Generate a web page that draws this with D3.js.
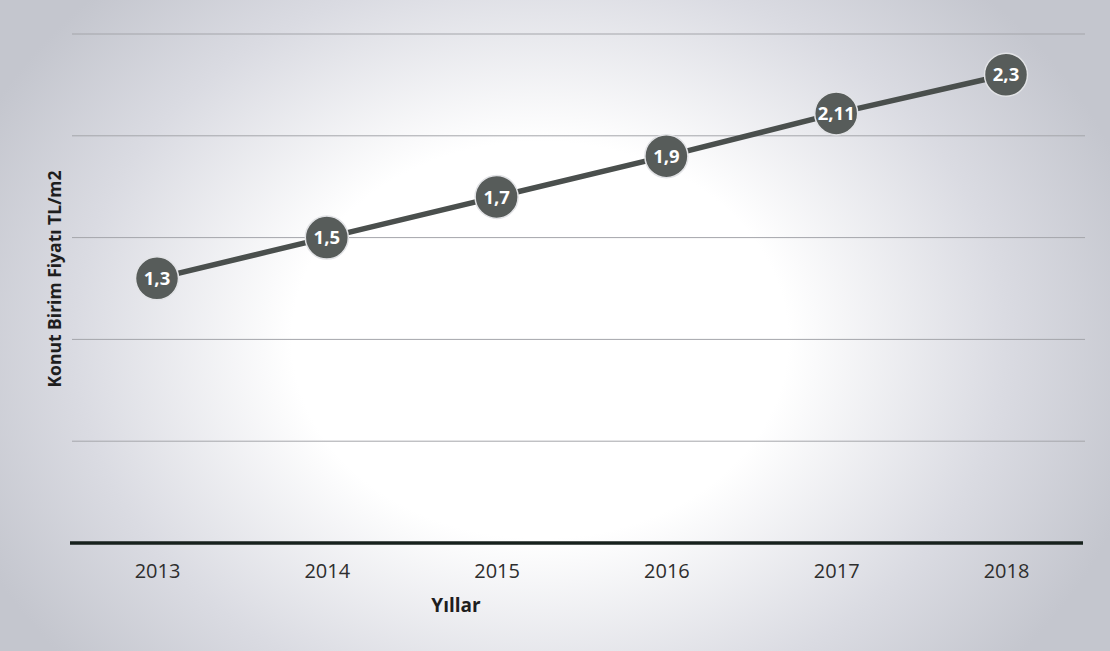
<!DOCTYPE html>
<html>
<head>
<meta charset="utf-8">
<script src="https://cdn.jsdelivr.net/npm/d3@7/dist/d3.min.js"></script>
<style>
  html, body { margin: 0; padding: 0; background: #fff; }
  svg { display: block; }
</style>
</head>
<body>
<svg id="chart" width="1110" height="651"></svg>
<script>
// Konut birim fiyatı (TL/m2), yıllara göre
const years = ["2013", "2014", "2015", "2016", "2017", "2018"];
const prices = [1.3, 1.5, 1.7, 1.9, 2.11, 2.3];
const priceLabels = ["1,3", "1,5", "1,7", "1,9", "2,11", "2,3"];
const gridValues = [0, 0.5, 1, 1.5, 2, 2.5];

const W = 1110, H = 651;
const svg = d3.select("#chart");
const defs = svg.append("defs");

// soft white centre fading to grey towards the edges
const bg = defs.append("radialGradient")
  .attr("id", "bgGrad")
  .attr("gradientUnits", "userSpaceOnUse")
  .attr("cx", 540).attr("cy", 340).attr("r", 620)
  .attr("gradientTransform", "translate(540,340) scale(1,0.8) translate(-540,-340)");
bg.append("stop").attr("offset", "0").attr("stop-color", "#ffffff");
bg.append("stop").attr("offset", "0.4").attr("stop-color", "#ffffff");
bg.append("stop").attr("offset", "0.75").attr("stop-color", "#dadbe2");
bg.append("stop").attr("offset", "1").attr("stop-color", "#c4c6ce");

svg.append("rect").attr("width", W).attr("height", H).attr("fill", "url(#bgGrad)");

const plot = { left: 72, right: 1085, top: 34, bottom: 543 };

const x = d3.scalePoint().domain(years).range([157, 1006]);
const y = d3.scaleLinear().domain([0, 2.5]).range([plot.bottom, plot.top]);

// horizontal gridlines
svg.append("g")
  .selectAll("line")
  .data(gridValues.filter(v => v > 0))
  .join("line")
  .attr("x1", plot.left).attr("x2", plot.right)
  .attr("y1", d => y(d)).attr("y2", d => y(d))
  .attr("stroke", "#a4a5aa")
  .attr("stroke-width", 1);

// x axis baseline and year labels
const xAxis = svg.append("g")
  .attr("transform", `translate(0,${y(0)})`)
  .call(d3.axisBottom(x).tickSize(0).tickPadding(21));
xAxis.select(".domain").remove();
xAxis.append("line")
  .attr("x1", 70).attr("x2", 1083)
  .attr("y1", 0).attr("y2", 0)
  .attr("stroke", "#17211d")
  .attr("stroke-width", 3.5);
xAxis.selectAll(".tick text")
  .attr("font-family", "'Open Sans', sans-serif")
  .attr("font-size", 20)
  .attr("fill", "#2e2e2e");

// axis titles
svg.append("text")
  .attr("x", 456).attr("y", 612)
  .attr("text-anchor", "middle")
  .attr("font-family", "'Open Sans', sans-serif")
  .attr("font-weight", 700)
  .attr("font-size", 19)
  .attr("fill", "#1e1e1e")
  .text("Yıllar");

svg.append("text")
  .attr("transform", "translate(61,279) rotate(-90)")
  .attr("text-anchor", "middle")
  .attr("font-family", "'Open Sans', sans-serif")
  .attr("font-weight", 700)
  .attr("font-size", 17.5)
  .attr("fill", "#1e1e1e")
  .text("Konut Birim Fiyatı TL/m2");

// price line
const data = years.map((yr, i) => ({ year: yr, value: prices[i], label: priceLabels[i] }));
svg.append("path")
  .datum(data)
  .attr("fill", "none")
  .attr("stroke", "#4a4f4d")
  .attr("stroke-width", 5.5)
  .attr("d", d3.line().x(d => x(d.year)).y(d => y(d.value)));

// value markers with labels
const pts = svg.append("g").selectAll("g")
  .data(data)
  .join("g")
  .attr("transform", d => `translate(${x(d.year)},${y(d.value)})`);
pts.append("circle")
  .attr("r", 21.5)
  .attr("fill", "#575c5a")
  .attr("stroke", "#e2e3e6")
  .attr("stroke-width", 1.5);
pts.append("text")
  .attr("text-anchor", "middle")
  .attr("dy", "0.36em")
  .attr("font-family", "'Open Sans', sans-serif")
  .attr("font-weight", 700)
  .attr("font-size", 18.5)
  .attr("fill", "#ffffff")
  .text(d => d.label);
</script>
</body>
</html>
